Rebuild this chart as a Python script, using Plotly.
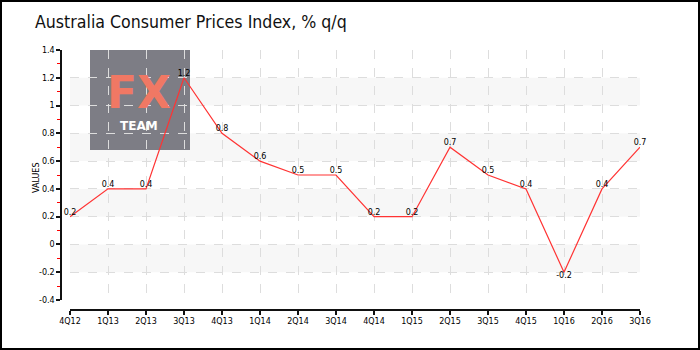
import plotly.graph_objects as go

# Quarterly CPI change, % q/q
quarters = ["4Q12", "1Q13", "2Q13", "3Q13", "4Q13", "1Q14", "2Q14", "3Q14",
            "4Q14", "1Q15", "2Q15", "3Q15", "4Q15", "1Q16", "2Q16", "3Q16"]
cpi_qq = [0.2, 0.4, 0.4, 1.2, 0.8, 0.6, 0.5, 0.5,
          0.2, 0.2, 0.7, 0.5, 0.4, -0.2, 0.4, 0.7]

y_ticks = [-0.4, -0.2, 0, 0.2, 0.4, 0.6, 0.8, 1.0, 1.2, 1.4]
y_ticktext = ["-0.4", "-0.2", "0", "0.2", "0.4", "0.6", "0.8", "1", "1.2", "1.4"]
# shaded horizontal bands (lower, upper)
bands = [(-0.2, 0.0), (0.2, 0.4), (0.6, 0.8), (1.0, 1.2)]

W, H = 700, 350
L, R, T, B = 61, 60, 50, 40
PW, PH = W - L - R, H - T - B


def px(x):
    return (x - L) / PW


def py(y):
    return (H - B - y) / PH


label_font = dict(family="DejaVu Sans", size=8, color="#000000")
AX = "#111111"
AXW = 1.5

fig = go.Figure()
fig.add_trace(go.Scatter(
    x=quarters, y=cpi_qq,
    mode="lines+text",
    line=dict(color="#ff3333", width=1.2),
    text=[f"{v:g}" for v in cpi_qq],
    textposition=["bottom center" if v < 0 else "top center" for v in cpi_qq],
    textfont=label_font,
    hoverinfo="x+y",
    showlegend=False,
    cliponaxis=False,
))

shapes = []
for lo, hi in bands:
    shapes.append(dict(type="rect", xref="x domain", yref="y", x0=0, x1=1,
                       y0=lo, y1=hi, fillcolor="#f7f7f7", line=dict(width=0),
                       layer="below"))
# brand badge
shapes.append(dict(type="rect", xref="paper", yref="paper",
                   x0=px(90), x1=px(190), y0=py(150), y1=py(50),
                   fillcolor="#7d7d85", line=dict(width=0), layer="below"))
# outer frame
shapes.append(dict(type="rect", xref="paper", yref="paper",
                   x0=px(1), x1=px(699), y0=py(349), y1=py(1),
                   fillcolor="rgba(0,0,0,0)", line=dict(color="#000000", width=2),
                   layer="above"))

annotations = [
    dict(text="<b>FX</b>", xref="paper", yref="paper", x=px(139), y=py(92),
         showarrow=False, xanchor="center", yanchor="middle",
         font=dict(family="DejaVu Sans", size=44, color="#f07864")),
    dict(text="<b>TEAM</b>", xref="paper", yref="paper", x=px(139), y=py(126),
         showarrow=False, xanchor="center", yanchor="middle",
         font=dict(family="DejaVu Sans", size=12, color="#ffffff")),
    dict(text="VALUES", xref="paper", yref="paper", x=px(36), y=py(178),
         textangle=-90, showarrow=False, xanchor="center", yanchor="middle",
         font=label_font),
]

fig.update_layout(
    width=W, height=H,
    margin=dict(l=L, r=R, t=T, b=B, pad=0),
    paper_bgcolor="#ffffff", plot_bgcolor="rgba(0,0,0,0)",
    title=dict(text="Australia Consumer Prices Index, % q/q",
               x=35 / W, xanchor="left", y=1 - 22 / H, yanchor="middle",
               font=dict(family="DejaVu Sans Condensed", size=17.6,
                         color="#111111")),
    shapes=shapes,
    annotations=annotations,
    # axes sit detached from the plotting area, below and to the left
    xaxis=dict(
        domain=[px(70), 1], anchor="free", position=0,
        type="category", range=[0, len(quarters) - 1],
        showline=True, linecolor=AX, linewidth=AXW,
        ticks="outside", ticklen=4, tickcolor=AX, tickwidth=AXW,
        showgrid=True, gridcolor="#dddddd", griddash="dash", gridwidth=1,
        zeroline=False, tickfont=label_font,
    ),
    yaxis=dict(
        domain=[py(300), 1], anchor="free", position=0,
        range=[-0.4, 1.4], tickvals=y_ticks, ticktext=y_ticktext,
        showline=True, linecolor=AX, linewidth=AXW,
        ticks="outside", ticklen=4, tickcolor=AX, tickwidth=AXW,
        minor=dict(dtick=0.1, tick0=-0.4, ticks="outside", ticklen=3,
                   tickcolor="#ff0000", tickwidth=1, showgrid=False),
        showgrid=True, gridcolor="#dddddd", griddash="dash", gridwidth=1,
        zeroline=False, tickfont=label_font,
    ),
)

fig.write_html("out.html")
